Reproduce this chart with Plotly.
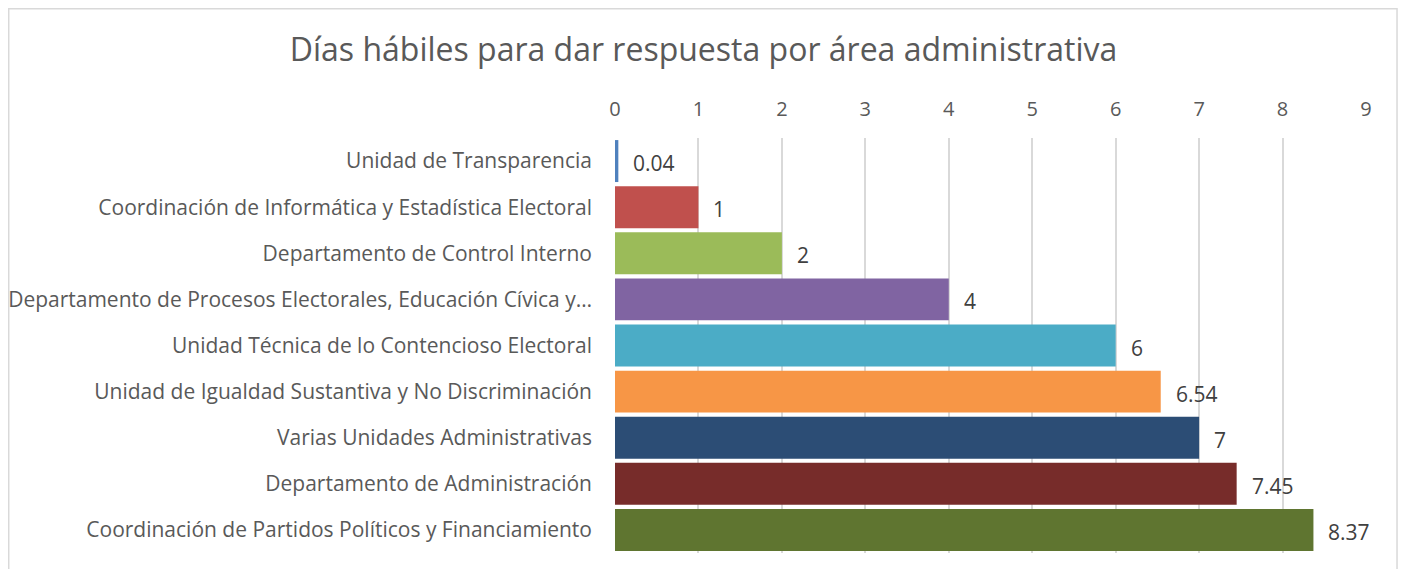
import plotly.graph_objects as go

categories = [
    "Unidad de Transparencia",
    "Coordinación de Informática y Estadística Electoral",
    "Departamento de Control Interno",
    "Departamento de Procesos Electorales, Educación Cívica y…",
    "Unidad Técnica de lo Contencioso Electoral",
    "Unidad de Igualdad Sustantiva y No Discriminación",
    "Varias Unidades Administrativas",
    "Departamento de Administración",
    "Coordinación de Partidos Políticos y Financiamiento",
]
values = [0.04, 1, 2, 4, 6, 6.54, 7, 7.45, 8.37]
labels = ["0.04", "1", "2", "4", "6", "6.54", "7", "7.45", "8.37"]
colors = ["#4F81BD", "#C0504D", "#9BBB59", "#8064A2", "#4BACC6",
          "#F79646", "#2C4D75", "#772C2A", "#5F7530"]
tick_vals = list(range(0, 10))

FONT = "Open Sans"
TXT = "#595959"

fig = go.Figure()
fig.add_trace(go.Bar(
    x=values, y=categories, orientation="h",
    marker=dict(color=colors, line=dict(width=0)),
    hoverinfo="x+y",
))

annotations = []
for c, v, t in zip(categories, values, labels):
    annotations.append(dict(
        x=v, y=c, xref="x", yref="y", text=t, showarrow=False,
        xanchor="left", yanchor="middle", xshift=13, yshift=-2,
        font=dict(family=FONT, size=21, color="#404040"),
    ))

fig.update_layout(
    width=1391, height=561,
    margin=dict(l=607, r=33, t=130, b=16, autoexpand=False),
    paper_bgcolor="white", plot_bgcolor="white",
    bargap=0.09,
    showlegend=False,
    title=dict(text="Días hábiles para dar respuesta por área administrativa",
               x=0.5, xref="container", xanchor="center", y=0.925, yanchor="middle",
               font=dict(family=FONT, size=32, color=TXT)),
    annotations=annotations,
    shapes=[dict(type="rect", xref="paper", yref="paper",
                 x0=-0.8073, x1=1.0413, y0=-0.1, y1=1.3114,
                 line=dict(color="#D9D9D9", width=1.5), fillcolor="rgba(0,0,0,0)",
                 layer="below")],
    xaxis=dict(side="top", range=[0, 9], tickvals=tick_vals,
               showgrid=True, gridcolor="#D9D9D9", gridwidth=1.5,
               zeroline=False, showline=False, ticks="",
               ticklabelstandoff=17, automargin=False,
               tickfont=dict(family=FONT, size=20, color=TXT)),
    yaxis=dict(autorange="reversed", showgrid=False, showline=False,
               ticks="", ticklabelstandoff=22, automargin=False,
               tickfont=dict(family=FONT, size=21, color=TXT)),
)

fig.write_html("out.html")
